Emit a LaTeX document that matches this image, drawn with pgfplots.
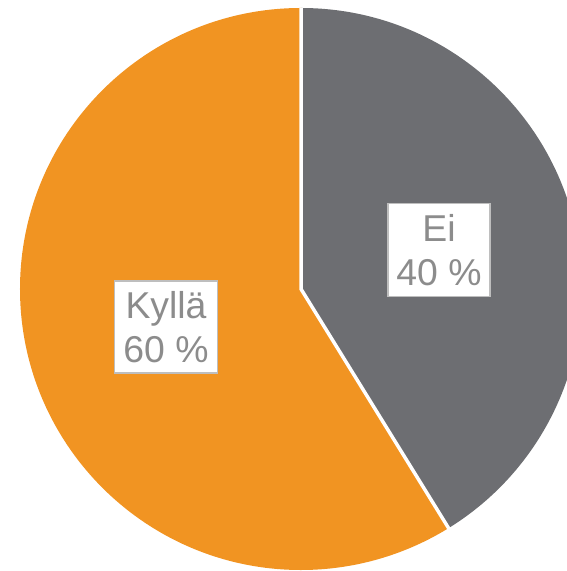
\documentclass[border=0pt]{standalone}
\usepackage{pgfplots}
\pgfplotsset{compat=1.18}
\usepackage{pgfplotstable}
\usepackage{fontspec}
\setmainfont{Liberation Sans}
\definecolor{eigray}{RGB}{109,110,114}
\definecolor{kyllaorange}{RGB}{241,148,34}
\definecolor{labeltext}{RGB}{140,140,140}
\definecolor{labelborder}{RGB}{190,190,190}

% share of each answer (percent)
\pgfplotstableread{
label value
Ei 41.2
Kylla 58.8
}\piedata

\begin{document}
\begin{tikzpicture}
\pgfplotstablegetelem{0}{value}\of\piedata
\pgfmathsetmacro{\angEnd}{90-3.6*\pgfplotsretval}
\pgfmathsetmacro{\angEndB}{360+\angEnd}
\begin{axis}[
  x=1bp, y=1bp,
  xmin=0, xmax=567, ymin=0, ymax=571,
  hide axis, clip=true,
]
% Ei slice (clockwise from the top)
\fill[eigray] (axis cs:301,282) -- (axis cs:301,563)
  arc[start angle=90, end angle=\angEnd, radius=281bp] -- cycle;
% Kylla slice
\fill[kyllaorange] (axis cs:301,282) -- (axis cs:301,563)
  arc[start angle=90, end angle=\angEndB, radius=281bp] -- cycle;
% separators
\draw[white, line width=3.5bp] (axis cs:301,563) -- (axis cs:301,282) -- ++(\angEnd:290bp);
% labels
\node[draw=labelborder, line width=1.5bp, fill=white, text=labeltext,
  align=center, font=\fontsize{37.5}{44}\selectfont,
  minimum width=102bp, minimum height=93bp, inner sep=0pt]
  at (axis cs:439,321) {Ei\\40 \%};
\node[draw=labelborder, line width=1.5bp, fill=white, text=labeltext,
  align=center, font=\fontsize{37.5}{44}\selectfont,
  minimum width=103bp, minimum height=92bp, inner sep=0pt]
  at (axis cs:166,244) {Kyllä\\60 \%};
\end{axis}
\pgfresetboundingbox
\path (current axis.south west) rectangle (current axis.north east);
\end{tikzpicture}
\end{document}
